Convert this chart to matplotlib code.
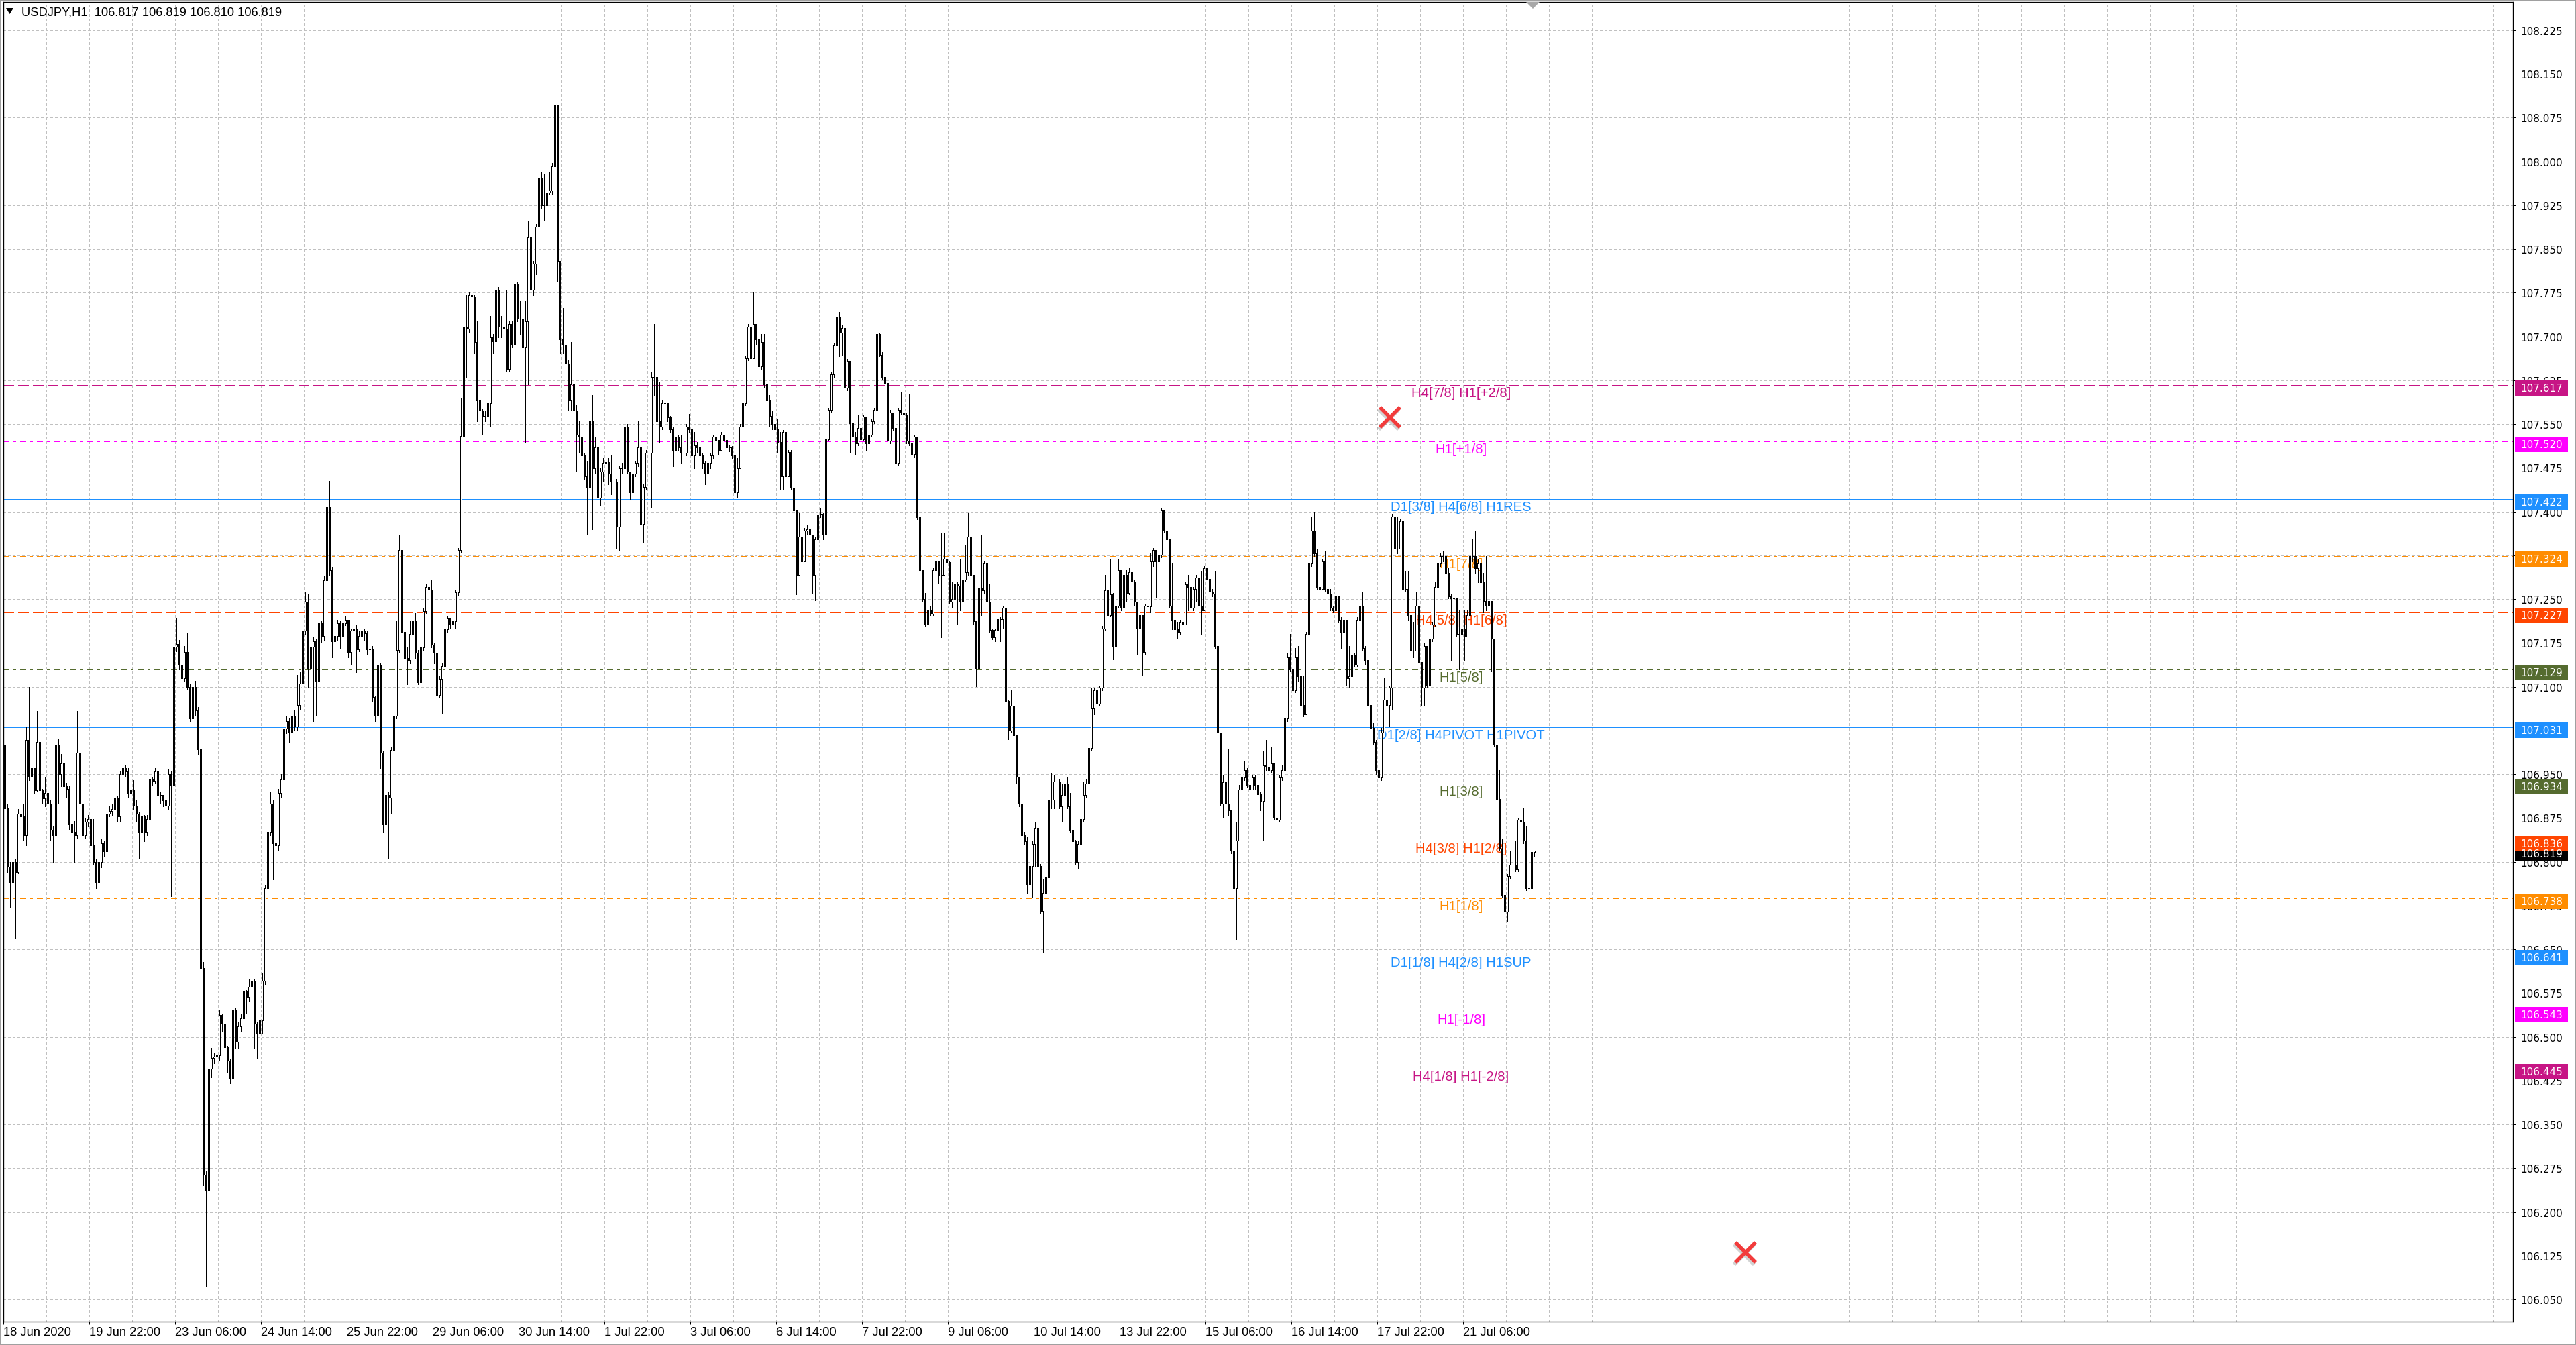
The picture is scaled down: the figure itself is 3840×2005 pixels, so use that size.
import numpy as np
import matplotlib
matplotlib.use("Agg")
import matplotlib.pyplot as plt
from matplotlib import font_manager
from matplotlib.patches import Rectangle, Polygon
from matplotlib.transforms import blended_transform_factory

# hourly USDJPY bars, prices in points above 106.000 (1 point = 0.001)
first_open = 1000
close_pts = [
    891, 791, 764, 800, 782, 882, 878, 846, 1009, 946,
    960, 923, 1005, 923, 909, 918, 900, 855, 846, 1000,
    950, 968, 930, 925, 864, 850, 846, 987, 900, 846,
    868, 873, 828, 800, 764, 800, 832, 818, 882, 887,
    890, 909, 878, 950, 960, 955, 918, 923, 896, 882,
    850, 878, 850, 873, 941, 939, 955, 914, 914, 905,
    896, 950, 932, 1168, 1173, 1137, 1114, 1159, 1100, 1046,
    1100, 1059, 993, 618, 264, 237, 446, 464, 466, 468,
    537, 523, 482, 459, 428, 546, 491, 518, 532, 578,
    568, 586, 596, 523, 505, 528, 596, 755, 850, 900,
    832, 828, 918, 941, 1028, 1041, 1023, 1050, 1032, 1068,
    1105, 1196, 1246, 1132, 1168, 1178, 1109, 1209, 1187, 1282,
    1408, 1300, 1178, 1187, 1209, 1187, 1209, 1214, 1159, 1196,
    1200, 1164, 1187, 1196, 1191, 1164, 1164, 1082, 1050, 1137,
    987, 864,
    915, 910, 991, 1050, 1163, 1334, 1194, 1149, 1145, 1190,
    1212, 1158, 1108, 1167, 1230, 1271, 1266, 1172, 1158, 1086,
    1113, 1135, 1199, 1217, 1208, 1212, 1262, 1334, 1530, 1717,
    1713, 1771, 1769, 1690, 1591, 1573, 1564, 1564, 1586, 1699,
    1692, 1780, 1717, 1717, 1713, 1645, 1722, 1686, 1789, 1731,
    1731, 1681, 1726, 1870, 1780, 1825, 1888, 1971, 1925, 1925,
    1947, 1950, 1992, 2096, 1830, 1695, 1686, 1654, 1591, 1618,
    1573, 1532, 1528, 1496, 1460, 1442, 1555, 1474, 1510, 1424,
    1469, 1483, 1485, 1465, 1451, 1451, 1374, 1474, 1474, 1546,
    1469, 1433, 1465, 1483, 1510, 1379, 1442, 1501, 1501, 1631,
    1631, 1555, 1546, 1586, 1586, 1562, 1541, 1505, 1528, 1510,
    1501, 1501, 1546, 1541, 1496, 1514, 1510, 1496, 1483, 1465,
    1483, 1496, 1528, 1523, 1505, 1532, 1523, 1510, 1510, 1496,
    1433, 1474, 1546, 1586, 1663, 1717, 1663, 1722, 1695, 1649,
    1690, 1618, 1591, 1564, 1550, 1541, 1519,
    1460, 1536, 1460, 1502, 1441, 1402, 1292, 1357, 1315, 1368,
    1370, 1361, 1292, 1353, 1395, 1396, 1361, 1524, 1574, 1635,
    1685, 1734, 1707, 1715, 1612, 1658, 1551, 1528, 1517, 1543,
    1524, 1563, 1517, 1532, 1555, 1574, 1704, 1669, 1631, 1620,
    1521, 1570, 1543, 1483, 1574, 1570, 1566, 1521, 1517, 1498,
    1528, 1391, 1300, 1250, 1208, 1231, 1225, 1300, 1315, 1292,
    1292, 1319, 1313, 1246, 1250, 1277, 1273, 1246, 1284, 1296,
    1357, 1292, 1212, 1132, 1269, 1265, 1311, 1246, 1197, 1185,
    1197, 1216, 1216, 1235, 1075, 1025, 1067, 1017, 945, 899,
    846, 835, 762, 793, 831, 857, 793, 716, 747, 773,
    907, 907, 937, 937, 895, 915, 934, 895, 854, 835,
    800, 831, 873, 915, 934, 995, 1063, 1094, 1071, 1098,
    1200, 1265, 1223, 1258, 1170, 1239, 1300, 1235, 1292, 1261,
    1296, 1280, 1246, 1200, 1223, 1159, 1239, 1237, 1315, 1334,
    1315, 1326, 1402, 1368, 1353,
    1239, 1215, 1199, 1194, 1211, 1207, 1275, 1271, 1235, 1267,
    1287, 1239, 1231, 1303, 1285, 1263, 1259, 1170, 1021, 900,
    936, 900, 888, 819, 755, 836, 924, 944, 957, 932,
    924, 944, 932, 916, 904, 965, 963, 957, 969, 876,
    872, 944, 957, 1045, 1150, 1130, 1094, 1150, 1118, 1069,
    1053, 1190, 1311, 1368, 1328, 1271, 1267, 1315, 1267, 1259,
    1235, 1231, 1255, 1215, 1194, 1215, 1114, 1118, 1154, 1138,
    1215, 1239, 1166, 1146, 1069, 1029, 1005, 957, 944, 1021,
    1078, 1069, 1098, 1392, 1336, 1336, 1384, 1267, 1267, 1223,
    1162, 1162, 1239, 1142, 1098, 1170, 1102, 1182, 1207, 1271,
    1311, 1324, 1324, 1295, 1255, 1251, 1251, 1190, 1190, 1199,
    1186, 1223, 1324, 1324, 1303, 1311, 1279, 1247, 1239, 1247,
    1182, 1001, 908, 823, 743, 715, 775, 795, 795, 787,
    872, 868, 836, 755, 755, 817, 819,
]
high_pts = [
    1028, 900, 800, 1018, 805, 890, 946, 900, 1032, 1100,
    968, 960, 1058, 1005, 925, 944, 918, 905, 860, 1005,
    1010, 985, 975, 935, 930, 870, 870, 1058, 990, 905,
    875, 880, 878, 873, 805, 810, 840, 836, 950, 895,
    900, 915, 912, 955, 1014, 965, 960, 940, 940, 905,
    885, 895, 880, 880, 950, 945, 960, 960, 920, 915,
    910, 958, 955, 1175, 1218, 1180, 1140, 1170, 1191, 1105,
    1105, 1110, 1065, 993, 628, 270, 450, 480, 472, 478,
    545, 540, 525, 485, 462, 637, 550, 525, 540, 590,
    580, 600, 646, 600, 525, 535, 610, 760, 860, 920,
    905, 840, 925, 950, 1035, 1050, 1045, 1058, 1060, 1120,
    1125, 1210, 1262, 1258, 1178, 1185, 1182, 1215, 1212, 1290,
    1415, 1453, 1305, 1200, 1215, 1212, 1220, 1220, 1214, 1200,
    1210, 1205, 1195, 1218, 1200, 1195, 1170, 1170, 1085, 1145,
    1140, 990,
    924, 919, 996, 1059, 1212, 1361, 1361, 1203, 1167, 1212,
    1221, 1226, 1163, 1172, 1235, 1275, 1374, 1284, 1176, 1149,
    1118, 1140, 1203, 1221, 1217, 1214, 1266, 1338, 1595, 1884,
    1771, 1776, 1823, 1771, 1726, 1622, 1577, 1573, 1591, 1735,
    1704, 1789, 1785, 1735, 1731, 1780, 1726, 1726, 1796, 1794,
    1762, 1762, 1762, 1898, 1947, 1830, 1893, 1977, 1983, 1979,
    1965, 1983, 1997, 2163, 2096, 1830, 1749, 1695, 1659, 1690,
    1708, 1582, 1555, 1555, 1501, 1487, 1595, 1600, 1528, 1555,
    1474, 1492, 1501, 1492, 1496, 1483, 1456, 1478, 1483, 1559,
    1550, 1469, 1469, 1487, 1555, 1487, 1447, 1505, 1523, 1640,
    1722, 1636, 1622, 1591, 1591, 1568, 1564, 1546, 1537, 1532,
    1532, 1564, 1550, 1568, 1523, 1537, 1519, 1510, 1501, 1487,
    1487, 1501, 1532, 1532, 1523, 1537, 1537, 1532, 1514, 1512,
    1487, 1492, 1550, 1591, 1668, 1722, 1744, 1776, 1722, 1717,
    1704, 1704, 1636, 1600, 1573, 1564, 1559,
    1536, 1540, 1597, 1505, 1505, 1441, 1402, 1399, 1399, 1372,
    1377, 1372, 1361, 1357, 1410, 1406, 1399, 1528, 1578, 1639,
    1688, 1791, 1742, 1719, 1715, 1662, 1658, 1555, 1536, 1566,
    1543, 1566, 1559, 1536, 1559, 1578, 1711, 1707, 1673, 1635,
    1624, 1574, 1570, 1547, 1578, 1604, 1597, 1570, 1601, 1555,
    1532, 1528, 1406, 1300, 1261, 1235, 1239, 1303, 1319, 1315,
    1364, 1364, 1342, 1315, 1280, 1280, 1280, 1319, 1288, 1342,
    1399, 1361, 1292, 1212, 1284, 1361, 1315, 1315, 1277, 1199,
    1200, 1239, 1219, 1239, 1265, 1078, 1094, 1067, 1017, 945,
    899, 850, 842, 796, 835, 869, 888, 796, 770, 796,
    949, 953, 949, 949, 941, 934, 945, 945, 918, 857,
    838, 835, 876, 937, 941, 998, 1098, 1098, 1105, 1101,
    1204, 1292, 1292, 1319, 1261, 1242, 1319, 1292, 1296, 1300,
    1303, 1368, 1284, 1246, 1227, 1223, 1242, 1265, 1330, 1338,
    1322, 1342, 1406, 1402, 1433,
    1352, 1311, 1239, 1211, 1215, 1215, 1279, 1291, 1271, 1271,
    1291, 1307, 1299, 1307, 1291, 1295, 1267, 1299, 1170, 1017,
    949, 936, 993, 888, 819, 868, 932, 965, 973, 961,
    957, 949, 949, 944, 920, 989, 1009, 965, 997, 969,
    884, 949, 965, 1069, 1158, 1190, 1138, 1166, 1170, 1138,
    1118, 1194, 1315, 1392, 1400, 1336, 1279, 1319, 1332, 1303,
    1267, 1239, 1259, 1243, 1219, 1219, 1207, 1170, 1166, 1158,
    1219, 1279, 1263, 1170, 1150, 1069, 1037, 1009, 973, 1029,
    1114, 1094, 1102, 1396, 1537, 1392, 1388, 1364, 1299, 1299,
    1251, 1211, 1263, 1239, 1142, 1174, 1170, 1283, 1211, 1279,
    1324, 1328, 1332, 1328, 1303, 1259, 1255, 1251, 1231, 1227,
    1231, 1231, 1348, 1352, 1368, 1319, 1328, 1295, 1324, 1316,
    1247, 1182, 1037, 957, 840, 763, 779, 819, 803, 836,
    876, 876, 892, 860, 759, 823, 819,
]
low_pts = [
    880, 782, 723, 741, 668, 780, 870, 837, 828, 940,
    935, 918, 920, 868, 900, 895, 895, 837, 800, 841,
    900, 930, 925, 910, 855, 764, 800, 840, 890, 835,
    840, 860, 820, 795, 755, 768, 790, 810, 815, 878,
    880, 885, 870, 870, 945, 945, 910, 915, 890, 868,
    805, 800, 835, 845, 870, 932, 935, 905, 900, 895,
    890, 890, 741, 925, 1160, 1130, 1105, 1110, 1095, 1040,
    1014, 1050, 985, 610, 246, 73, 230, 430, 455, 460,
    460, 510, 470, 440, 420, 423, 480, 480, 510, 525,
    540, 560, 580, 480, 464, 500, 505, 590, 750, 845,
    770, 818, 820, 910, 935, 1020, 1005, 1018, 1025, 1025,
    1060, 1100, 1190, 1100, 1125, 1040, 1050, 1105, 1175, 1180,
    1275, 1290, 1150, 1170, 1180, 1165, 1180, 1205, 1150, 1138,
    1185, 1125, 1160, 1185, 1180, 1155, 1150, 1075, 1040, 1045,
    960, 850,
    861, 806, 883, 987, 1045, 1158, 1185, 1113, 1104, 1140,
    1185, 1149, 1104, 1108, 1163, 1226, 1262, 1167, 1140, 1041,
    1081, 1054, 1108, 1194, 1201, 1185, 1201, 1257, 1329, 1528,
    1631, 1708, 1762, 1672, 1555, 1555, 1532, 1555, 1544, 1546,
    1672, 1690, 1699, 1699, 1695, 1640, 1640, 1681, 1681, 1726,
    1704, 1677, 1519, 1618, 1744, 1771, 1807, 1884, 1920, 1898,
    1898, 1943, 1944, 1988, 1794, 1672, 1672, 1586, 1573, 1573,
    1573, 1469, 1501, 1483, 1456, 1361, 1438, 1370, 1465, 1420,
    1411, 1451, 1460, 1447, 1429, 1447, 1338, 1334, 1465, 1465,
    1465, 1420, 1429, 1460, 1478, 1352, 1347, 1438, 1451, 1406,
    1600, 1474, 1519, 1541, 1555, 1555, 1537, 1478, 1501, 1505,
    1483, 1438, 1496, 1537, 1492, 1474, 1501, 1492, 1474, 1447,
    1460, 1474, 1492, 1514, 1499, 1510, 1514, 1505, 1503, 1492,
    1429, 1424, 1474, 1541, 1582, 1659, 1659, 1690, 1686, 1645,
    1645, 1613, 1550, 1546, 1541, 1537, 1501,
    1437, 1437, 1456, 1463, 1437, 1376, 1258, 1292, 1311, 1330,
    1362, 1357, 1261, 1248, 1349, 1391, 1353, 1361, 1521, 1570,
    1631, 1681, 1666, 1669, 1601, 1608, 1502, 1513, 1498, 1513,
    1509, 1521, 1505, 1513, 1528, 1551, 1570, 1666, 1627, 1616,
    1513, 1517, 1540, 1429, 1479, 1566, 1563, 1517, 1513, 1460,
    1494, 1387, 1292, 1246, 1204, 1204, 1223, 1223, 1254, 1277,
    1185, 1292, 1309, 1242, 1235, 1246, 1208, 1231, 1200, 1280,
    1292, 1288, 1208, 1101, 1101, 1223, 1261, 1239, 1193, 1181,
    1178, 1178, 1178, 1200, 1071, 1010, 1021, 1002, 934, 895,
    835, 831, 747, 712, 739, 793, 762, 712, 644, 743,
    770, 892, 892, 930, 892, 869, 911, 892, 850, 796,
    796, 789, 827, 869, 911, 930, 991, 1052, 1048, 1067,
    1094, 1197, 1185, 1220, 1147, 1170, 1235, 1231, 1212, 1246,
    1258, 1273, 1239, 1155, 1197, 1120, 1155, 1231, 1227, 1307,
    1254, 1311, 1322, 1364, 1322,
    1235, 1199, 1194, 1182, 1190, 1162, 1207, 1231, 1231, 1231,
    1247, 1235, 1190, 1235, 1279, 1255, 1255, 1166, 940, 896,
    876, 892, 880, 815, 751, 666, 836, 924, 940, 928,
    920, 924, 924, 912, 888, 836, 957, 944, 953, 872,
    864, 868, 940, 953, 1041, 1126, 1086, 1090, 1110, 1057,
    1049, 1053, 1178, 1307, 1324, 1267, 1227, 1271, 1263, 1251,
    1231, 1227, 1223, 1211, 1166, 1190, 1102, 1098, 1114, 1134,
    1134, 1211, 1162, 1138, 1061, 1021, 1001, 949, 940, 940,
    1021, 1029, 1033, 1061, 1332, 1328, 1360, 1263, 1263, 1215,
    1158, 1150, 1174, 1138, 1069, 1069, 1098, 1033, 1178, 1203,
    1267, 1307, 1315, 1291, 1251, 1146, 1215, 1186, 1130, 1166,
    1146, 1194, 1223, 1315, 1295, 1279, 1271, 1227, 1231, 1239,
    1126, 997, 904, 819, 739, 687, 698, 771, 739, 783,
    783, 828, 832, 751, 711, 747, 810,
]

symbol = "USDJPY,H1"
last_ohlc = ["106.817", "106.819", "106.810", "106.819"]
bid_price = 106.819

time_labels = ["18 Jun 2020", "19 Jun 22:00", "23 Jun 06:00", "24 Jun 14:00",
               "25 Jun 22:00", "29 Jun 06:00", "30 Jun 14:00", "1 Jul 22:00",
               "3 Jul 06:00", "6 Jul 14:00", "7 Jul 22:00", "9 Jul 06:00",
               "10 Jul 14:00", "13 Jul 22:00", "15 Jul 06:00", "16 Jul 14:00",
               "17 Jul 22:00", "21 Jul 06:00"]

level_prices = [107.617, 107.520, 107.422, 107.324, 107.227, 107.129, 107.031,
                106.934, 106.836, 106.738, 106.641, 106.543, 106.445]
level_names = ["H4[7/8] H1[+2/8]", "H1[+1/8]", "D1[3/8] H4[6/8] H1RES", "H1[7/8]",
               "H4[5/8] H1[6/8]", "H1[5/8]", "D1[2/8] H4PIVOT H1PIVOT", "H1[3/8]",
               "H4[3/8] H1[2/8]", "H1[1/8]", "D1[1/8] H4[2/8] H1SUP", "H1[-1/8]",
               "H4[1/8] H1[-2/8]"]
level_colors = ["#C71585", "#FF00FF", "#1E90FF", "#FF8C00", "#FF4500", "#556B2F",
                "#1E90FF", "#556B2F", "#FF4500", "#FF8C00", "#1E90FF", "#FF00FF",
                "#C71585"]
level_kinds = ["dash", "dashdot", "solid", "dashdot", "dash", "dashdot", "solid",
               "dashdot", "dash", "dashdot", "solid", "dashdot", "dash"]

# red cross objects drawn on the chart (bar position, price)
cross_bar = [516.25, 648.75]
cross_price = [107.562, 106.131]

# ---------------------------------------------------------------- layout
W, H = 3840, 2006
PT = 0.72                      # points per pixel at dpi 100
ax_left, ax_right, ax_top, ax_bottom = 5, 3746, 4, 1971
bar_px = 4
ymin, ymax = 106.0121, 108.2733
px_per_price = (ax_bottom - ax_top) / (ymax - ymin)

names = {f.name for f in font_manager.fontManager.ttflist}
if "Liberation Sans Narrow" in names:
    narrow, narrow_size = "Liberation Sans Narrow", 15.8
else:
    narrow, narrow_size = "Liberation Sans", 13.2
label_font = "Liberation Sans" if "Liberation Sans" in names else "DejaVu Sans"

close = 106 + np.array(close_pts) / 1000
high = 106 + np.array(high_pts) / 1000
low = 106 + np.array(low_pts) / 1000
opens = np.r_[106 + first_open / 1000, close[:-1]]
high = np.maximum(high, np.maximum(opens, close))
low = np.minimum(low, np.minimum(opens, close))
x = np.arange(len(close))

fig = plt.figure(figsize=(W / 100, H / 100), dpi=100)
fig.patch.set_facecolor("white")
ax = fig.add_axes([ax_left / W, 1 - ax_bottom / H,
                   (ax_right - ax_left) / W, (ax_bottom - ax_top) / H])
x_lo = -0.5
x_hi = x_lo + (ax_right - ax_left) / bar_px
ax.set_xlim(x_lo, x_hi)
ax.set_ylim(ymin, ymax)

# grid
price_ticks = np.round(np.arange(106.050, 108.2251, 0.075), 3)
for p in price_ticks:
    ax.axhline(p, color="#C0C0C0", lw=PT, ls=(0, (4, 3)), zorder=0.5,
               antialiased=False)
for k in range(1, int((x_hi - x_lo) / 16) + 1):
    ax.axvline(x_lo + 16 * k, color="#C0C0C0", lw=PT, ls=(0, (4, 3)), zorder=0.5,
               antialiased=False)

# level lines and their labels
styles = {"dash": (0, (16, 6)), "dashdot": (0, (9, 6, 3, 6)), "solid": "-"}
label_x = 542.75
for p, name, c, kind in zip(level_prices, level_names, level_colors, level_kinds):
    ax.axhline(p, color=c, lw=PT, ls=styles[kind], zorder=1.2, antialiased=False)
    ax.annotate(name, xy=(label_x, p), xytext=(0, -11.5 * PT),
                textcoords="offset points", ha="center", va="center",
                fontsize=14.6, family=label_font, color=c, zorder=1.5)
ax.axhline(bid_price, color="#B4B4B4", lw=PT, zorder=1.1, antialiased=False)

# candles
ax.vlines(x, low, high, color="black", lw=PT, zorder=3, antialiased=False)
bull = close >= opens
body_h = close - opens
ax.bar(x[bull], body_h[bull], bottom=opens[bull], width=0.5, color="white",
       edgecolor="black", linewidth=PT, zorder=3.5, antialiased=False)
ax.bar(x[~bull], body_h[~bull], bottom=opens[~bull], width=0.5, color="black",
       edgecolor="black", linewidth=PT, zorder=3.5, antialiased=False)

# red crosses with a soft shadow
ax.plot(np.array(cross_bar) - 0.4, np.array(cross_price) - 3 / px_per_price, "x",
        ms=30 * PT, mew=6 * PT, color="#808080", alpha=0.35, zorder=4)
ax.plot(cross_bar, cross_price, "x", ms=30 * PT, mew=5.5 * PT, color="#F23B3B", zorder=4.5)

# axes styling
for s in ax.spines.values():
    s.set_color("black")
    s.set_linewidth(1.3 * PT)
ax.yaxis.tick_right()
ax.set_yticks(price_ticks)
ax.set_yticklabels([f"{p:.3f}" for p in price_ticks])
ax.tick_params(axis="y", length=4 * PT, width=PT, pad=7 * PT, labelsize=11,
               colors="black")
for t in ax.get_yticklabels():
    t.set_family("DejaVu Sans")
ax.set_xticks(x_lo + 32 * np.arange(len(time_labels)))
ax.set_xticklabels(time_labels)
ax.tick_params(axis="x", length=4 * PT, width=PT, pad=3 * PT, labelsize=narrow_size)
for t in ax.get_xticklabels():
    t.set_family(narrow)
    t.set_horizontalalignment("left")

# coloured price tags on the scale
tr = blended_transform_factory(ax.transAxes, ax.transData)
tag_x0 = (3749 - ax_left) / (ax_right - ax_left)
tag_w = 79 / (ax_right - ax_left)
text_x = (3757 - ax_left) / (ax_right - ax_left)
tags = [(bid_price, "black")] + list(zip(level_prices, level_colors))
for p, c in tags:
    ax.add_patch(Rectangle((tag_x0, p - 16 / px_per_price), tag_w, 23 / px_per_price,
                           transform=tr, facecolor=c, edgecolor="none",
                           clip_on=False, zorder=10))
    ax.text(text_x, p - 4.5 / px_per_price, f"{p:.3f}", transform=tr, color="white",
            fontsize=11, family="DejaVu Sans", ha="left", va="center",
            clip_on=False, zorder=11)

# header and small markers
fig.text(32 / W, 1 - 19 / H, symbol + "  " + " ".join(last_ohlc), family=narrow,
         fontsize=narrow_size, ha="left", va="center")
fig.patches.append(Polygon([[9 / W, 1 - 13 / H], [20 / W, 1 - 13 / H],
                            [14.5 / W, 1 - 22 / H]], closed=True,
                           transform=fig.transFigure, facecolor="black",
                           edgecolor="none"))
shift_x = (ax_left + (569.5 - x_lo) * bar_px) / W
fig.patches.append(Polygon([[shift_x - 10 / W, 1 - 4 / H], [shift_x + 10 / W, 1 - 4 / H],
                            [shift_x, 1 - 14 / H]], closed=True,
                           transform=fig.transFigure, facecolor="#A8A8A8",
                           edgecolor="none", zorder=5))
fig.patches.append(Rectangle((0, 0), 1, 1, transform=fig.transFigure, fill=False,
                             edgecolor="#A0A0A0", linewidth=4 * PT))

fig.savefig("out.png", dpi=100)
